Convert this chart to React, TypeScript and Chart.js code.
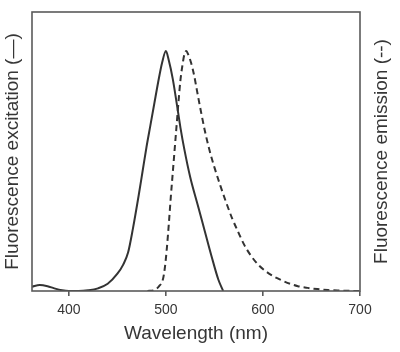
import React, { useEffect, useRef } from "react";
import { Chart, registerables } from "chart.js";

Chart.register(...registerables);

const excitationWavelengths = [362, 370, 378, 385, 393, 400, 410, 420, 430, 440, 450, 456, 461, 466, 472, 476, 480, 484, 488, 492, 496, 500, 503, 507, 511, 515, 519, 525, 533, 540, 547, 554, 559];
const excitationValues = [0.018, 0.025, 0.02, 0.011, 0.003, 0, 0, 0.003, 0.011, 0.03, 0.072, 0.11, 0.16, 0.26, 0.4, 0.5, 0.6, 0.69, 0.78, 0.87, 0.95, 1.0, 0.96, 0.885, 0.785, 0.68, 0.59, 0.475, 0.355, 0.25, 0.145, 0.048, 0];

const emissionWavelengths = [481, 488, 493, 497, 499, 501, 503, 505, 507, 509, 511, 513, 515, 517, 519, 521, 523, 526, 529, 532, 536, 540, 545, 550, 556, 562, 568, 574, 581, 588, 595, 602, 610, 619, 628, 636, 646, 656, 667, 677, 700];
const emissionValues = [0, 0.004, 0.02, 0.05, 0.1, 0.18, 0.28, 0.39, 0.49, 0.59, 0.69, 0.79, 0.88, 0.94, 0.985, 1.0, 0.985, 0.95, 0.9, 0.835, 0.75, 0.67, 0.585, 0.515, 0.44, 0.37, 0.305, 0.25, 0.19, 0.145, 0.11, 0.085, 0.063, 0.045, 0.03, 0.02, 0.013, 0.008, 0.004, 0.002, 0];

const xTicks = [400, 500, 600, 700];
const xTitle = "Wavelength (nm)";
const leftTitle = "Fluorescence excitation (\u2014)";
const rightTitle = "Fluorescence emission (--)";

const FONT = "'Liberation Sans', Arial, Helvetica, sans-serif";
const TEXT = "#363636";

export default function App() {
  const ref = useRef<HTMLCanvasElement | null>(null);

  useEffect(() => {
    if (!ref.current) return;
    const boxPlugin = {
      id: "boxAndRightTitle",
      afterDraw(chart: any) {
        const { ctx, chartArea } = chart;
        ctx.save();
        ctx.strokeStyle = "#5a5a5a";
        ctx.lineWidth = 1.6;
        ctx.strokeRect(chartArea.left, chartArea.top, chartArea.right - chartArea.left, chartArea.bottom - chartArea.top);
        ctx.translate(382, (chartArea.top + chartArea.bottom) / 2);
        ctx.rotate(-Math.PI / 2);
        ctx.fillStyle = TEXT;
        ctx.font = `19px ${FONT}`;
        ctx.textAlign = "center";
        ctx.textBaseline = "middle";
        ctx.fillText(rightTitle, 0, 0);
        ctx.restore();
      },
    };

    const chart = new Chart(ref.current, {
      type: "line",
      data: {
        datasets: [
          {
            label: "Excitation",
            data: excitationWavelengths.map((x, i) => ({ x, y: excitationValues[i] })),
            borderColor: "#333333",
            borderWidth: 2,
            pointRadius: 0,
            cubicInterpolationMode: "monotone",
            yAxisID: "y",
          },
          {
            label: "Emission",
            data: emissionWavelengths.map((x, i) => ({ x, y: emissionValues[i] })),
            borderColor: "#333333",
            borderWidth: 2,
            borderDash: [6, 4],
            pointRadius: 0,
            cubicInterpolationMode: "monotone",
            yAxisID: "y2",
          },
        ],
      },
      options: {
        animation: false,
        responsive: false,
        maintainAspectRatio: false,
        layout: { padding: { top: 12, left: 0, right: 0, bottom: 0 } },
        plugins: { legend: { display: false }, tooltip: { enabled: false } },
        scales: {
          x: {
            type: "linear",
            min: 362,
            max: 700,
            afterBuildTicks: (scale: any) => {
              scale.ticks = xTicks.map((v) => ({ value: v }));
            },
            afterFit: (scale: any) => {
              scale.height = 61;
            },
            grid: { display: true, drawOnChartArea: false, drawTicks: true, tickLength: 5, color: "#5a5a5a", lineWidth: 1.6 },
            border: { display: false },
            ticks: { color: TEXT, font: { size: 14, family: FONT }, padding: 6, maxRotation: 0, autoSkip: false },
            title: { display: true, text: xTitle, color: TEXT, font: { size: 19, family: FONT }, padding: { top: 0, bottom: 7 } },
          },
          y: {
            position: "left",
            min: 0,
            max: 1.1625,
            afterFit: (scale: any) => {
              scale.width = 32;
            },
            grid: { display: false },
            border: { display: false },
            ticks: { display: false },
            title: { display: true, text: leftTitle, color: TEXT, font: { size: 19, family: FONT }, padding: { top: 1, bottom: 0 } },
          },
          y2: {
            position: "right",
            min: 0,
            max: 1.1625,
            afterFit: (scale: any) => {
              scale.width = 40;
            },
            grid: { display: false },
            border: { display: false },
            ticks: { display: false },
          },
        },
      },
      plugins: [boxPlugin],
    } as any);
    return () => chart.destroy();
  }, []);

  return (
    <div style={{ position: "absolute", left: 0, top: 0, width: 400, height: 352, background: "#fff" }}>
      <canvas ref={ref} width={400} height={352} style={{ width: 400, height: 352, display: "block" }} />
    </div>
  );
}
